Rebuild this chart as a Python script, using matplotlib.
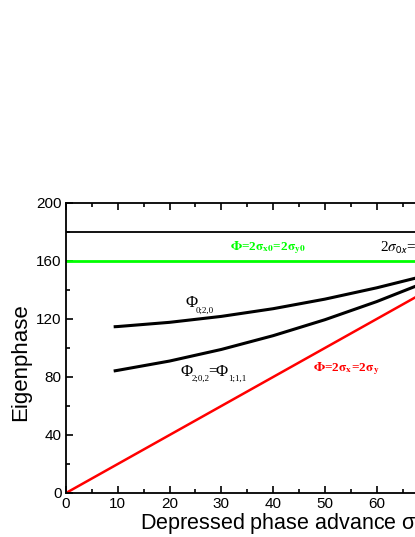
import numpy as np
import matplotlib
matplotlib.use("Agg")
import matplotlib.pyplot as plt
from matplotlib.ticker import MultipleLocator

plt.rcParams['font.family'] = ['Liberation Sans', 'DejaVu Sans']
plt.rcParams['mathtext.fontset'] = 'custom'
plt.rcParams['mathtext.rm'] = 'Liberation Sans'
plt.rcParams['mathtext.it'] = 'Liberation Sans'

# depressed phase advance sigma (deg)
sigma = [9.5, 10, 20, 30, 40, 50, 60, 70]
# eigenphase curves
phi_020 = [114.7, 114.8, 117.7, 121.8, 127.1, 133.7, 141.5, 150.4]
phi_202 = [84.3, 84.6, 91.0, 99.0, 108.5, 119.5, 132.0, 146.1]
# Phi = 2 sigma
sigma_lin = [0, 90]
phi_lin = [0, 180]
# zero-current levels
phi_0_green = 160
phi_0_black = 180

fig = plt.figure(figsize=(4.15, 5.37), dpi=100)
ax = fig.add_axes([66 / 415, 44 / 537, 466 / 415, 290 / 537])

ax.axhline(phi_0_black, color='black', lw=1.3)
ax.axhline(phi_0_green, color='#00FF00', lw=2)
ax.plot(sigma_lin, phi_lin, color='#FF0000', lw=1.8)
ax.plot(sigma, phi_020, color='black', lw=2.2)
ax.plot(sigma, phi_202, color='black', lw=2.2)

ax.set_xlim(0, 90)
ax.set_ylim(0, 200)
ax.xaxis.set_major_locator(MultipleLocator(10))
ax.xaxis.set_minor_locator(MultipleLocator(5))
ax.yaxis.set_major_locator(MultipleLocator(40))
ax.yaxis.set_minor_locator(MultipleLocator(20))
ax.tick_params(which='both', direction='in', top=True, right=False, width=1.2)
ax.tick_params(which='major', length=5, labelsize=11, pad=3)
ax.tick_params(which='minor', length=3)
for s in ax.spines.values():
    s.set_linewidth(1.3)

ax.set_ylabel('Eigenphase', fontsize=16)
ax.yaxis.set_label_coords(-0.075, 0.452)
ax.set_xlabel(r'Depressed phase advance $\sigma$', fontsize=15.5, ha='left')
ax.xaxis.set_label_coords(0.159, -0.063)

serif = ['Liberation Serif', 'DejaVu Serif']


def phi_label(x, y, parts):
    # parts: (text, dx, dy, size) in pixels relative to (x, y)
    for txt, dx, dy, size in parts:
        ax.annotate(txt, (x, y), xytext=(dx, dy), textcoords='offset pixels',
                    fontsize=size, family=serif, ha='left', va='center',
                    color='black', annotation_clip=False)


phi_label(23, 131, [('Φ', 0, 0, 12), ('0;2,0', 11, -8, 6.5)])
phi_label(22.2, 83.4, [('Φ', 0, 0, 12), ('2;0,2', 11, -7, 6.5),
                       ('=', 27, 1, 11), ('Φ', 35, 0, 12), ('1;1,1', 47, -7, 6.5)])

ax.text(31.7, 167.5, r'$\mathbf{\Phi}$=2$\mathbf{\sigma}_{\mathsf{\mathbf{x0}}}$=2$\mathbf{\sigma}_{\mathsf{\mathbf{y0}}}$',
        fontsize=9.5, family=serif, fontweight='bold', math_fontfamily='stix', color='#00FF00')
ax.text(60.6, 166, r'2$\sigma_{\mathsf{0x}}$=2$\sigma_{\mathsf{0y}}$', fontsize=11,
        family=serif, math_fontfamily='stix', color='black')
ax.text(47.7, 84, r'$\mathbf{\Phi}$=2$\mathbf{\sigma}_{\mathsf{\mathbf{x}}}$=2$\mathbf{\sigma}_{\mathsf{\mathbf{y}}}$',
        fontsize=9.5, family=serif, fontweight='bold', math_fontfamily='stix', color='#FF0000')

fig.savefig('out.png', dpi=100)
